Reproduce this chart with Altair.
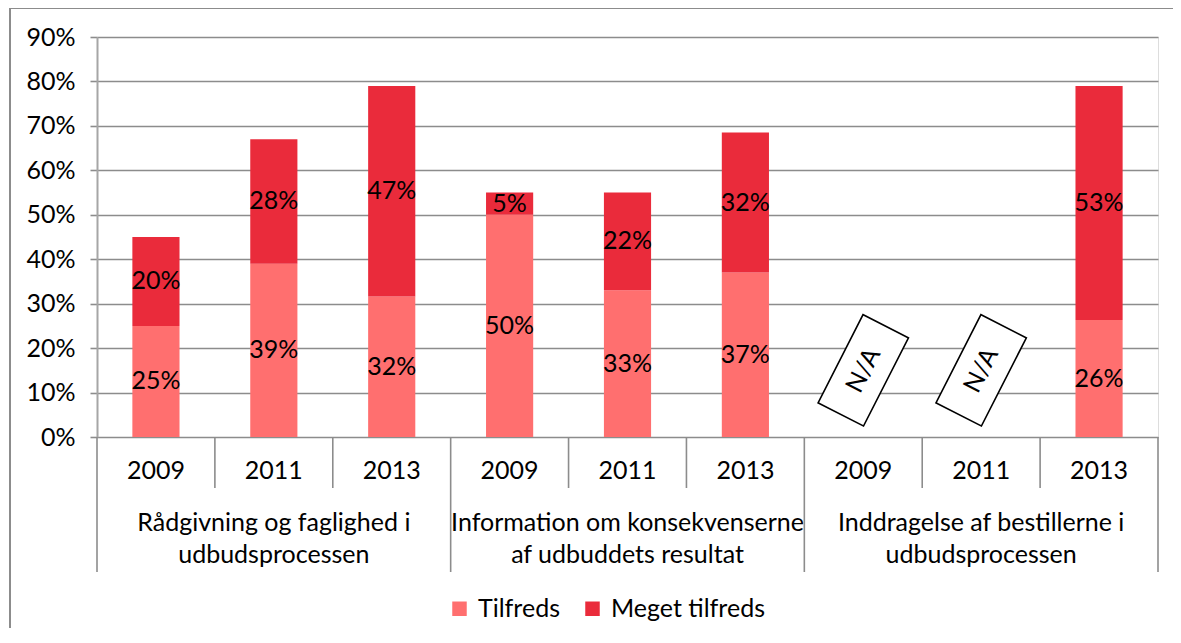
import altair as alt
import pandas as pd

# ---------------- data ----------------
groups = [
    "Rådgivning og faglighed i\nudbudsprocessen",
    "Information om konsekvenserne\naf udbuddets resultat",
    "Inddragelse af bestillerne i\nudbudsprocessen",
]
years = ["2009", "2011", "2013"]
series = ["Tilfreds", "Meget tilfreds"]
colors = ["#FF6F6F", "#EA2B3B"]
tilfreds = [25.0, 39.0, 31.6, 50.0, 33.0, 37.0, None, None, 26.3]
meget_tilfreds = [20.0, 28.0, 47.4, 5.0, 22.0, 31.5, None, None, 52.7]
na_text = "N/A"
na_level = 15
y_ticks = [0, 10, 20, 30, 40, 50, 60, 70, 80, 90]

# ---------------- tables ----------------
keys, key_year = [], []
for gi, g in enumerate(groups):
    for y in years:
        keys.append(f"{gi}-{y}")
        key_year.append(y)

rows = []
for i, k in enumerate(keys):
    for si, vals in enumerate([tilfreds, meget_tilfreds]):
        v = vals[i]
        if v is not None:
            rows.append({"key": k, "series": series[si], "value": v,
                         "order": si, "label": f"{round(v)}%"})
bars_df = pd.DataFrame(rows)

na_df = pd.DataFrame([{"key": k, "pos": na_level, "t": na_text}
                      for i, k in enumerate(keys) if tilfreds[i] is None])
year_df = pd.DataFrame({"key": keys, "year": key_year})
group_df = pd.DataFrame({"key": [f"{gi}-{years[1]}" for gi in range(len(groups))],
                         "name": groups})
short_sep = pd.DataFrame({"key": [k for k, y in zip(keys, key_year) if y != years[0]]})
long_sep = pd.DataFrame({"key": [k for k, y in zip(keys, key_year) if y == years[0]]})
end_sep = pd.DataFrame({"key": [keys[-1]]})

# ---------------- style ----------------
FONT = "Lato"
FS = 25
W, H = 1061, 400
GRID = "#8c8c8c"

x_scale = alt.Scale(domain=keys, paddingInner=0.6, paddingOuter=0.3)
x_edge_scale = alt.Scale(domain=keys, paddingInner=0, paddingOuter=0)
y_scale = alt.Scale(domain=[0, 90], nice=False, zero=True)


def X(**kw):
    return alt.X("key:N", scale=x_scale, axis=None, **kw)


def XE(pos):
    return alt.X("key:N", scale=x_edge_scale, axis=None, bandPosition=pos)


y_axis = alt.Axis(values=y_ticks, labelExpr="datum.value + '%'", grid=True,
                  gridColor=GRID, gridWidth=1.6, domainColor="#a6a6a6",
                  domainWidth=2, tickColor=GRID, tickSize=7, tickWidth=1.6,
                  labelFont=FONT, labelFontSize=FS, labelColor="black",
                  labelPadding=15, title=None)

bars = alt.Chart(bars_df).mark_bar().encode(
    x=X(),
    y=alt.Y("value:Q", stack="zero", scale=y_scale, axis=y_axis),
    color=alt.Color("series:N", scale=alt.Scale(domain=series, range=colors),
                    legend=alt.Legend(title=None, orient="none", direction="horizontal",
                                      legendX=350, legendY=559, symbolType="square",
                                      symbolSize=210, symbolStrokeWidth=0,
                                      labelFont=FONT, labelFontSize=FS,
                                      labelColor="black", columnPadding=20,
                                      labelOffset=6)),
    order=alt.Order("order:Q"),
)

labels = alt.Chart(bars_df).transform_stack(
    stack="value", groupby=["key"], sort=[alt.SortField("order")], as_=["v0", "v1"]
).transform_calculate(mid="(datum.v0 + datum.v1) / 2").mark_text(
    font=FONT, fontSize=FS, color="black", baseline="middle"
).encode(
    x=X(),
    y=alt.Y("mid:Q", scale=y_scale, axis=y_axis),
    text="label:N",
)

na_box = alt.Chart(na_df).mark_point(
    shape="M-1,-0.515L1,-0.515L1,0.515L-1,0.515Z", size=9801, angle=297,
    filled=True, fill="white", stroke="black", strokeWidth=1.6, opacity=1,
).encode(x=X(), y=alt.Y("pos:Q", scale=y_scale, axis=y_axis))

na_lbl = alt.Chart(na_df).mark_text(
    font=FONT, fontSize=FS, color="black", angle=297, baseline="middle"
).encode(x=X(), y=alt.Y("pos:Q", scale=y_scale, axis=y_axis), text="t:N")

year_lbl = alt.Chart(year_df).mark_text(
    font=FONT, fontSize=FS, color="black", baseline="middle"
).encode(x=X(), y=alt.value(H + 34), text="year:N")

group_lbl = alt.Chart(group_df).mark_text(
    font=FONT, fontSize=FS, color="black", baseline="middle",
    lineBreak="\n", lineHeight=32
).encode(x=X(), y=alt.value(H + 86), text="name:N")

sep1 = alt.Chart(short_sep).mark_rule(color=GRID, strokeWidth=1.6).encode(
    x=XE(0), y=alt.value(H), y2=alt.value(H + 51))
sep2 = alt.Chart(long_sep).mark_rule(color=GRID, strokeWidth=1.6).encode(
    x=XE(0), y=alt.value(H), y2=alt.value(H + 135))
sep3 = alt.Chart(end_sep).mark_rule(color=GRID, strokeWidth=1.6).encode(
    x=XE(1), y=alt.value(H), y2=alt.value(H + 135))

border = alt.Chart(alt.Data(values=[{"a": 1}])).mark_rect(
    filled=False, stroke="#8c8c8c", strokeWidth=2
).encode(x=alt.value(-87), x2=alt.value(1081), y=alt.value(-29), y2=alt.value(606))

main = alt.layer(border, bars, labels, na_box, na_lbl, year_lbl, group_lbl)
seps = alt.layer(sep1, sep2, sep3)

chart = alt.layer(main, seps).resolve_scale(x="independent").properties(
    width=W, height=H,
    autosize=alt.AutoSizeParams(type="none"),
    padding={"left": 89, "top": 29, "right": 15, "bottom": 191},
).configure_view(stroke=None).configure(background="white")

chart.save("out.html", embed_options={"renderer": "svg", "actions": False})
